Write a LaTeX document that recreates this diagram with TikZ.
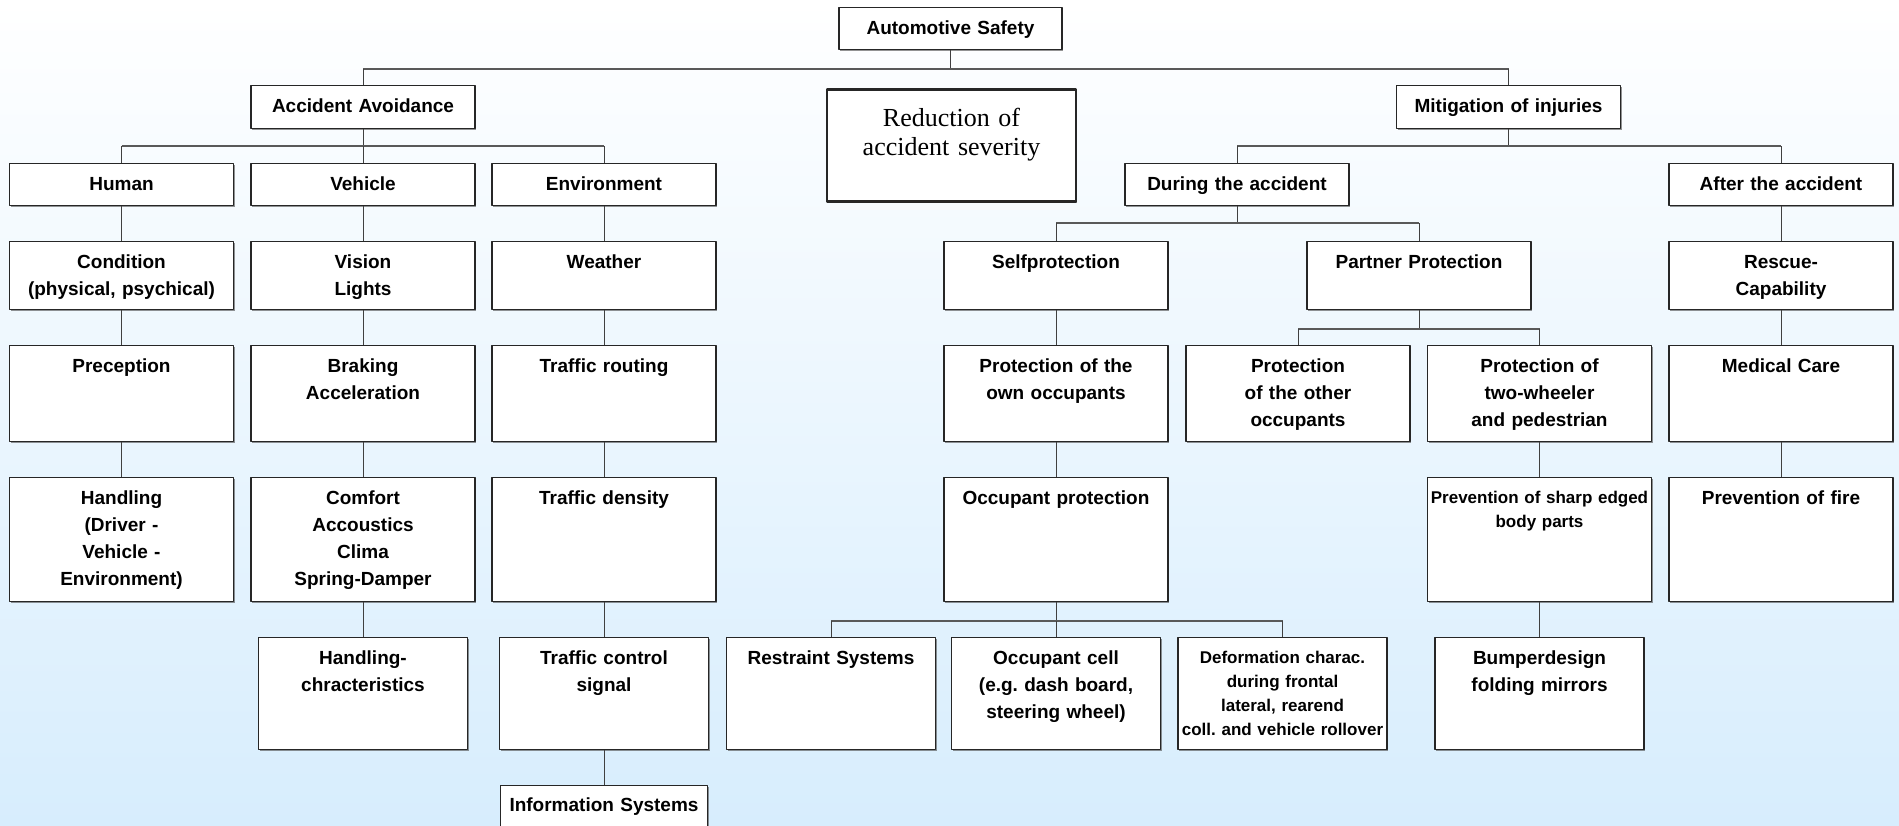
\documentclass[tikz,border=0pt]{standalone}
\usepackage{fontspec}
\setmainfont{Liberation Sans}
\newfontfamily\sevfont{Liberation Serif}
\usetikzlibrary{shadows}
\definecolor{bgblue}{RGB}{215,237,253}
\frenchspacing
\begin{document}
\begin{tikzpicture}[x=1pt, y=1pt, line join=round]
			\tikzset{
				box/.style={draw=black!85, line width=1.4pt, fill=white, anchor=north, align=center, inner sep=0pt,
					text width=224pt, text height=27pt, text depth={#1pt-27pt}, font=\bfseries\fontsize{19}{27}\selectfont,
					drop shadow={shadow xshift=1.4pt, shadow yshift=-1.4pt, fill=black!70, opacity=0.6}},
				small/.style={font=\bfseries\fontsize{17}{24}\selectfont, text height=26pt, text depth={#1pt-26pt}},
				narrow/.style={text width=209pt},
				link/.style={draw=black!75, line width=1pt},
				bus/.style={draw=black!65, line width=2pt},
			}
			\def\W{1899}\def\H{825}
			\useasboundingbox (0,0) rectangle (\W,-\H);
			\shade[top color=white, bottom color=bgblue] (0,0) rectangle (\W,-\H);
			\node[box=42, text width=223pt] (safety) at (950.5,-7) {Automotive Safety};
			\node[box=43] (avoid) at (363,-85) {Accident Avoidance};
			\node[box=43] (mitig) at (1508.5,-85) {Mitigation of injuries};
			\node[box=112, text width=249pt, line width=2.5pt, text height=37pt, text depth=75pt, font=\sevfont\fontsize{26}{29}\selectfont] (sever) at (951.5,-88) {Reduction of\\accident severity};
			\node[box=42] (human) at (121.5,-163) {Human};
			\node[box=42] (vehic) at (363,-163) {Vehicle};
			\node[box=42] (envir) at (604,-163) {Environment};
			\node[box=42] (during) at (1237,-163) {During the accident};
			\node[box=42] (after) at (1781,-163) {After the accident};
			\node[box=68] (cond) at (121.5,-241) {Condition\\(physical, psychical)};
			\node[box=68] (vision) at (363,-241) {Vision\\Lights};
			\node[box=68] (weather) at (604,-241) {Weather};
			\node[box=68] (self) at (1056,-241) {Selfprotection};
			\node[box=68] (partner) at (1419,-241) {Partner Protection};
			\node[box=68] (rescue) at (1781,-241) {Rescue-\\Capability};
			\node[box=96] (percep) at (121.5,-345) {Preception};
			\node[box=96] (brake) at (363,-345) {Braking\\Acceleration};
			\node[box=96] (routing) at (604,-345) {Traffic routing};
			\node[box=96] (ownocc) at (1056,-345) {Protection of the\\own occupants};
			\node[box=96] (othocc) at (1298,-345) {Protection\\of the other\\occupants};
			\node[box=96] (twowh) at (1539.5,-345) {Protection of\\two-wheeler\\and pedestrian};
			\node[box=96] (medic) at (1781,-345) {Medical Care};
			\node[box=124] (handl) at (121.5,-477) {Handling\\(Driver -\\Vehicle -\\Environment)};
			\node[box=124] (comfort) at (363,-477) {Comfort\\Accoustics\\Clima\\Spring-Damper};
			\node[box=124] (density) at (604,-477) {Traffic density};
			\node[box=124] (occprot) at (1056,-477) {Occupant protection};
			\node[box=124, small=124] (sharp) at (1539.5,-477) {Prevention of sharp edged\\body parts};
			\node[box=124] (fire) at (1781,-477) {Prevention of fire};
			\node[box=112, narrow] (handchr) at (363,-637) {Handling-\\chracteristics};
			\node[box=112, narrow] (control) at (604,-637) {Traffic control\\signal};
			\node[box=112, narrow] (restr) at (831,-637) {Restraint Systems};
			\node[box=112, narrow] (cell) at (1056,-637) {Occupant cell\\(e.g. dash board,\\steering wheel)};
			\node[box=112, narrow, small=112] (deform) at (1282.5,-637) {Deformation charac.\\during frontal\\lateral, rearend\\coll. and vehicle rollover};
			\node[box=112, narrow] (bumper) at (1539.5,-637) {Bumperdesign\\folding mirrors};
			\node[box=52, text width=207pt, text height=26pt, text depth=26pt] (info) at (604,-785) {Information Systems};
			\coordinate (topb) at ([yshift=-19pt]safety.south);
			\draw[link] (safety) -- (topb);
			\draw[bus] (topb -| avoid) -- (topb -| mitig);
			\foreach \n in {avoid,mitig} \draw[link] (topb -| \n) -- (\n);
			\coordinate (avb) at ([yshift=-17pt]avoid.south);
			\draw[link] (avoid) -- (avb);
			\draw[bus] (avb -| human) -- (avb -| envir);
			\foreach \n in {human,vehic,envir} \draw[link] (avb -| \n) -- (\n);
			\coordinate (mib) at ([yshift=-17pt]mitig.south);
			\draw[link] (mitig) -- (mib);
			\draw[bus] (mib -| during) -- (mib -| after);
			\foreach \n in {during,after} \draw[link] (mib -| \n) -- (\n);
			\coordinate (dub) at ([yshift=-17pt]during.south);
			\draw[link] (during) -- (dub);
			\draw[bus] (dub -| self) -- (dub -| partner);
			\foreach \n in {self,partner} \draw[link] (dub -| \n) -- (\n);
			\coordinate (pab) at ([yshift=-19pt]partner.south);
			\draw[link] (partner) -- (pab);
			\draw[bus] (pab -| othocc) -- (pab -| twowh);
			\foreach \n in {othocc,twowh} \draw[link] (pab -| \n) -- (\n);
			\coordinate (ocb) at ([yshift=-19pt]occprot.south);
			\draw[link] (occprot) -- (ocb);
			\draw[bus] (ocb -| restr) -- (ocb -| deform);
			\foreach \n in {restr,cell,deform} \draw[link] (ocb -| \n) -- (\n);
			\foreach \a/\b in {human/cond,cond/percep,percep/handl,vehic/vision,vision/brake,brake/comfort,comfort/handchr,
				envir/weather,weather/routing,routing/density,density/control,control/info,self/ownocc,ownocc/occprot,
				after/rescue,rescue/medic,medic/fire,twowh/sharp,sharp/bumper}
				\draw[link] (\a) -- (\b);
		\end{tikzpicture}
\end{document}
